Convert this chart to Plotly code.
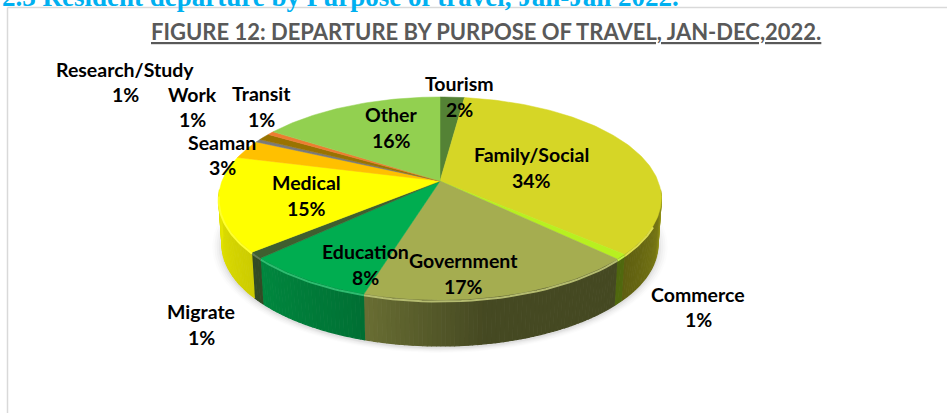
import numpy as np
import plotly.graph_objects as go

W, H = 947, 413
# ---- data
categories = ["Tourism", "Family/Social", "Commerce", "Government", "Education", "Migrate",
              "Medical", "Seaman", "Research/Study", "Work", "Transit", "Other"]
values = [2.1, 34.4, 0.8, 17.4, 8.2, 1.0, 15.1, 3.0, 0.5, 1.1, 0.6, 15.8]
colors = ["#548235", "#D6D626", "#B8F020", "#A5AD50", "#00AD50", "#3F5F2F",
          "#FFFF00", "#FFC000", "#7A7A7A", "#997300", "#ED7D31", "#92D050"]
# label anchors (centre of name line, centre of percent line), in page pixels
label_x = [459, 531, 698, 463, 365, 201, 306, 222, 125, 192, 261, 391]
name_y = [83, 154, 294, 260, 251, 311, 182, 142, 69, 94, 93, 114]
pct_y = [109, 180, 319, 286, 277, 337, 208, 167, 94, 119, 119, 140]

title_text = "FIGURE 12: DEPARTURE BY PURPOSE OF TRAVEL, JAN-DEC,2022."
page_heading = "2.3 Resident departure by Purpose of travel, Jan-Jan 2022."

# ---- perspective projection of the pie disc onto the page
CX, APEX_Y, R = 440.0, 181.0, 218.0
B, C = -67.3, 0.1724
DEPTH = 46.0


def project(deg, lift=0.0, scale=1.0, r=1.0):
    t = np.radians(deg)
    x, y = r * np.sin(t), r * np.cos(t)
    d = 1 + C * y
    return CX + scale * R * x / d, (APEX_Y + B * y) / d + lift


def mix(hex_color, f, target=0):
    c = [int(hex_color[i:i + 2], 16) for i in (1, 3, 5)]
    return "rgb(%d,%d,%d)" % tuple(round(v * f + target * (1 - f)) for v in c)


total = sum(values)
edges = np.cumsum([0] + values) / total * 360
fig = go.Figure()


def poly(xs, ys, color, line=None, width=1.0):
    fig.add_trace(go.Scatter(x=list(xs), y=list(ys), mode="lines", fill="toself", fillcolor=color,
                             line=dict(color=line or color, width=width), hoverinfo="skip", showlegend=False))


# soft shadow below the body
ring = np.linspace(0, 360, 181)
for grow, alpha in zip([1.045, 1.035, 1.025, 1.015, 1.006], [0.012, 0.018, 0.025, 0.03, 0.04]):
    sx, sy = project(ring, lift=DEPTH + 2, scale=0.985 * grow, r=1.0)
    sy = sy.mean() + (sy - sy.mean()) * grow
    poly(sx, sy, f"rgba(0,0,0,{alpha})", line="rgba(0,0,0,0)", width=0)

# side wall shading by rim angle
shade_ang = [95, 100, 110, 135, 170, 200, 230, 265]
shade_val = [0.85, 0.75, 0.55, 0.42, 0.42, 0.66, 0.80, 0.90]
for i, col in enumerate(colors):
    a0, a1 = max(edges[i], 95), min(edges[i + 1], 265)
    if a1 <= a0:
        continue
    n = max(1, int((a1 - a0) / 1.0))
    steps = np.linspace(a0, a1, n + 1)
    for s0, s1 in zip(steps[:-1], steps[1:]):
        shade = float(np.interp((s0 + s1) / 2, shade_ang, shade_val))
        arc = np.array([s0, s1])
        xt, yt = project(arc)
        xb, yb = project(arc[::-1], lift=DEPTH, scale=0.985)
        poly(np.r_[xt, xb], np.r_[yt, yb], mix(col, shade), width=1.2)

# top face
for i, col in enumerate(colors):
    arc = np.linspace(edges[i], edges[i + 1], max(3, int(values[i] * 4)))
    x, y = project(arc)
    poly(np.r_[CX, x, CX], np.r_[APEX_Y, y, APEX_Y], col, width=0.5)

# bevel highlight on the front rim
for i, col in enumerate(colors):
    a0, a1 = max(edges[i], 115), min(edges[i + 1], 262)
    if a1 <= a0:
        continue
    x, y = project(np.linspace(a0, a1, 30), lift=1.5)
    fig.add_trace(go.Scatter(x=x, y=y, mode="lines", line=dict(color=mix(col, 0.82, 255), width=2),
                             hoverinfo="skip", showlegend=False))

LABEL_FONT = dict(family="Lato, Carlito, sans-serif", size=19.5, color="#000000", weight="bold")
ann = []
for name, v, lx, ny, py in zip(categories, values, label_x, name_y, pct_y):
    ann.append(dict(x=lx, y=ny, text=name, showarrow=False, font=LABEL_FONT, xanchor="center", yanchor="middle"))
    ann.append(dict(x=lx, y=py, text=f"{int(v + 0.5)}%", showarrow=False, font=LABEL_FONT,
                    xanchor="center", yanchor="middle"))
ann.append(dict(x=486, y=31, text=title_text, showarrow=False, xanchor="center", yanchor="middle",
                font=dict(family="Lato, sans-serif", size=22, color="#595959", weight="bold", lineposition="under")))
ann.append(dict(xref="paper", yref="paper", x=0.0, y=1 - 14 / H, text=page_heading, showarrow=False,
                xanchor="left", yanchor="bottom",
                font=dict(family="Liberation Serif, serif", size=27, color="#00B0F0", weight="bold")))

fig.update_layout(
    width=W, height=H, margin=dict(l=0, r=0, t=0, b=0), paper_bgcolor="white", plot_bgcolor="white",
    showlegend=False, annotations=ann,
    xaxis=dict(range=[0, W], visible=False, fixedrange=True),
    yaxis=dict(range=[H, 0], visible=False, fixedrange=True),
    shapes=[
        dict(type="line", x0=7.5, x1=W, y0=7.5, y1=7.5, line=dict(color="#D9D9D9", width=1.5)),
        dict(type="line", x0=7.5, x1=7.5, y0=7.5, y1=H, line=dict(color="#D9D9D9", width=1.5)),
    ],
)
fig.write_html("out.html", config=dict(displayModeBar=False),
               post_script="document.body.style.margin='0';document.body.style.overflow='hidden';")
